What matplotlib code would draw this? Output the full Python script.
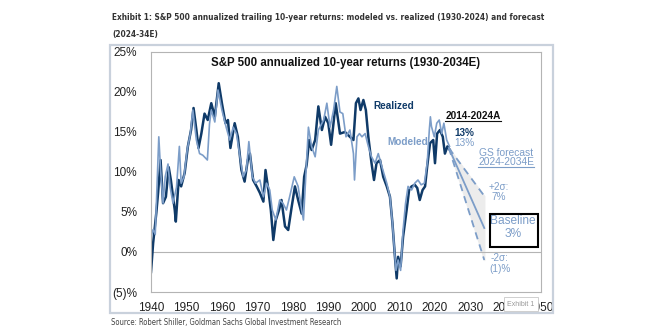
import matplotlib
matplotlib.use("Agg")
import matplotlib.pyplot as plt
from matplotlib.patches import Rectangle
import numpy as np

# ─── Data ────────────────────────────────────────────────────────────────────
realized_years = [1940.0, 1940.6, 1941.5, 1942.0, 1942.7, 1943.4, 1944.2, 1945.0, 1945.6, 1946.7,
                  1947.0, 1947.8, 1948.5, 1949.5, 1950.4, 1951.3, 1952.0, 1952.8, 1953.4, 1954.2,
                  1955.1, 1956.0, 1957.0, 1958.0, 1959.1, 1960.0, 1961.0, 1961.7, 1962.4, 1963.6,
                  1964.5, 1965.5, 1966.4, 1967.3, 1967.9, 1968.8, 1969.8, 1970.7, 1971.7, 1972.3,
                  1973.1, 1973.8, 1974.5, 1975.2, 1976.1, 1976.8, 1977.8, 1978.7, 1979.7, 1980.6,
                  1981.5, 1982.5, 1983.2, 1983.9, 1984.6, 1985.3, 1986.3, 1987.2, 1988.2, 1989.1,
                  1990.0, 1990.8, 1992.1, 1993.3, 1994.7, 1996.1, 1997.1, 1997.8, 1998.5, 1999.1,
                  1999.9, 2000.6, 2001.3, 2002.2, 2002.9, 2003.6, 2004.6, 2005.5, 2006.5, 2007.4,
                  2008.1, 2008.8, 2009.3, 2009.7, 2010.4, 2011.1, 2012.1, 2012.8, 2013.5, 2014.4,
                  2015.1, 2015.8, 2016.6, 2017.3, 2017.9, 2018.7, 2019.6, 2020.1, 2020.7, 2021.5,
                  2022.3, 2022.9, 2023.6, 2024.3]
realized_pct = [-2.5, 1.1, 4.9, 7.4, 11.5, 6.1, 6.9, 10.6, 9.0, 5.25,
                3.8, 9.0, 8.2, 9.9, 13.2, 15.25, 18.0, 15.25, 13.0, 14.8,
                17.3, 16.5, 18.6, 16.9, 21.1, 18.6, 16.1, 16.5, 13.0, 16.1,
                14.4, 10.25, 8.8, 11.5, 12.3, 9.0, 8.2, 7.4, 6.3, 10.25,
                7.75, 5.25, 1.5, 4.0, 5.25, 6.5, 3.2, 2.75, 5.7, 8.2,
                6.5, 4.8, 9.4, 10.9, 14.0, 12.75, 14.0, 18.2, 15.25, 16.9,
                16.1, 13.4, 18.6, 14.8, 15.0, 14.4, 14.0, 18.6, 19.2, 17.75,
                19.0, 17.75, 14.4, 11.1, 9.0, 11.1, 11.5, 9.4, 8.2, 6.9,
                3.6, -0.6, -3.3, -0.6, -1.8, 1.9, 5.25, 7.75, 8.2, 8.4,
                8.0, 6.5, 7.75, 8.2, 10.7, 13.6, 14.0, 11.1, 14.8, 15.25,
                14.4, 12.3, 13.2, 12.75]

modeled_years = [1940.0, 1940.6, 1941.2, 1942.2, 1942.7, 1943.4, 1944.0, 1944.8, 1945.4, 1946.2,
                 1947.2, 1948.0, 1948.5, 1949.3, 1950.2, 1951.1, 1951.8, 1952.8, 1953.7, 1954.6,
                 1955.9, 1956.5, 1957.0, 1958.0, 1958.9, 1960.0, 1961.2, 1962.2, 1963.2, 1964.1,
                 1965.1, 1966.0, 1966.9, 1967.6, 1968.6, 1969.5, 1970.7, 1971.7, 1972.6, 1973.5,
                 1974.2, 1975.2, 1976.3, 1977.2, 1978.2, 1979.1, 1980.4, 1981.5, 1982.5, 1983.0,
                 1983.9, 1984.4, 1985.3, 1986.3, 1987.2, 1988.7, 1989.6, 1990.5, 1991.5, 1992.4,
                 1993.3, 1994.1, 1995.0, 1996.1, 1997.1, 1997.4, 1998.1, 1998.8, 1999.5, 2000.4,
                 2001.3, 2002.2, 2003.2, 2004.1, 2005.1, 2006.5, 2007.4, 2008.1, 2008.6, 2009.1,
                 2009.7, 2010.4, 2011.1, 2011.8, 2012.5, 2013.5, 2014.4, 2015.3, 2016.2, 2017.1,
                 2017.9, 2018.5, 2018.8, 2019.1, 2019.9, 2020.6, 2021.3, 2022.0, 2022.6, 2023.4,
                 2024.2]
modeled_pct = [1.9, 2.8, 2.2, 14.4, 10.25, 6.1, 9.4, 11.0, 8.1, 6.1,
               8.1, 13.2, 8.6, 9.4, 12.75, 14.8, 17.75, 14.0, 12.3, 12.1,
               11.5, 16.0, 17.75, 16.25, 20.25, 17.75, 15.6, 14.0, 15.6, 14.8,
               11.9, 9.4, 10.25, 13.8, 9.4, 8.6, 9.0, 6.9, 8.6, 7.75,
               5.25, 4.0, 6.5, 6.1, 5.25, 6.9, 9.4, 8.2, 5.25, 4.0,
               11.5, 15.6, 13.2, 11.9, 15.25, 16.5, 18.6, 15.6, 17.75, 20.7,
               17.5, 17.3, 14.4, 15.25, 12.3, 9.0, 14.4, 14.8, 14.4, 14.8,
               13.2, 11.9, 11.1, 12.3, 10.7, 8.6, 6.9, 3.6, 0.6, -2.3,
               -1.0, -2.3, 2.75, 6.1, 8.2, 7.75, 8.6, 9.0, 8.4, 8.6,
               11.1, 15.25, 16.9, 15.7, 14.4, 16.1, 16.5, 14.8, 16.1, 14.0,
               13.2]

forecast_years = [2024, 2034]
baseline_pct = [13, 3]
upper_pct = [13, 7]
lower_pct = [13, -1]

x_ticks = list(range(1940, 2051, 10))
y_ticks = [-5, 0, 5, 10, 15, 20, 25]
y_tick_labels = ["(5)%", "0%", "5%", "10%", "15%", "20%", "25%"]

# ─── Styles ──────────────────────────────────────────────────────────────────
DARK = "#0f3a68"
LIGHT = "#7c9dc8"
GRID = "#b4b4b4"
plt.rcParams["font.family"] = ["Liberation Sans", "DejaVu Sans"]

W, H = 664, 331
fig = plt.figure(figsize=(W / 100, H / 100), dpi=100)
ax = fig.add_axes([151 / W, 1 - 292 / H, (541 - 151) / W, (292 - 52) / H])

# outer frame around the exhibit
fig.patches.append(Rectangle((110 / W, 1 - 313 / H), (553 - 110) / W, (313 - 45) / H,
                             transform=fig.transFigure, fill=False,
                             edgecolor="#c9d1dc", linewidth=1.6))

ax.plot(realized_years, realized_pct, color=DARK, linewidth=1.8, solid_joinstyle="round")
ax.plot(modeled_years, modeled_pct, color=LIGHT, linewidth=1.2, solid_joinstyle="round")

ax.fill_between(forecast_years, lower_pct, upper_pct, color="#ececec", zorder=0)
ax.plot(forecast_years, baseline_pct, color=LIGHT, linewidth=1.3)
ax.plot(forecast_years, upper_pct, color=LIGHT, linewidth=1.3, linestyle=(0, (4, 3)))
ax.plot(forecast_years, lower_pct, color=LIGHT, linewidth=1.3, linestyle=(0, (4, 3)))

ax.axhline(0, color=GRID, linewidth=0.8, zorder=0)
ax.set_xlim(1940, 2050)
ax.set_ylim(-5, 25)
ax.set_xticks(x_ticks)
ax.set_yticks(y_ticks, y_tick_labels)
ax.tick_params(length=0, labelsize=8.5, colors="#222222")
ax.tick_params(axis="y", pad=10)
ax.tick_params(axis="x", pad=7)
for s in ax.spines.values():
    s.set_color(GRID)
    s.set_linewidth(0.8)

# ─── Text ────────────────────────────────────────────────────────────────────
ax.text(0.5, 1 - 11 / 240, "S&P 500 annualized 10-year returns (1930-2034E)", fontsize=8.3,
        fontweight="bold", color="#111111", ha="center", va="center", transform=ax.transAxes)
ax.text(2002.6, 18.3, "Realized", color=DARK, fontsize=7.2, fontweight="bold", va="center")
ax.text(2006.6, 13.75, "Modeled", color=LIGHT, fontsize=7.2, fontweight="bold", va="center")
t_act = ax.text(2023.0, 17.0, "2014-2024A", color="#111111", fontsize=7.2,
                fontweight="bold", va="center")
ax.text(2025.5, 14.9, "13%", color=DARK, fontsize=7.2, fontweight="bold", va="center")
ax.text(2025.5, 13.6, "13%", color=LIGHT, fontsize=7.2, va="center")
ax.text(2040.2, 12.4, "GS forecast", color=LIGHT, fontsize=7.4, ha="center", va="center")
t_fc = ax.text(2040.2, 11.2, "2024-2034E", color=LIGHT, fontsize=7.4, ha="center", va="center")
ax.text(2038.0, 8.1, "+2σ:", color=LIGHT, fontsize=7.2, ha="center", va="center")
ax.text(2038.0, 6.9, "7%", color=LIGHT, fontsize=7.2, ha="center", va="center")
ax.text(2038.4, -0.75, "-2σ:", color=LIGHT, fontsize=7.2, ha="center", va="center")
ax.text(2038.4, -2.1, "(1)%", color=LIGHT, fontsize=7.2, ha="center", va="center")
ax.text(2042.1, 3.9, "Baseline", color=LIGHT, fontsize=8.6, ha="center", va="center")
ax.text(2042.1, 2.3, "3%", color=LIGHT, fontsize=8.6, ha="center", va="center")
ax.add_patch(Rectangle((2035.6, 0.6), 13.6, 4.15, fill=False, edgecolor="black",
                       linewidth=1.5, zorder=5))

cond = dict(family="DejaVu Sans", fontstretch="condensed")
hdr1 = fig.text(112 / W, 1 - 18 / H,
                "Exhibit 1: S&P 500 annualized trailing 10-year returns: modeled vs. realized (1930-2024) and forecast",
                fontsize=7.8, fontweight="bold", color="#333333", va="center", **cond)
hdr2 = fig.text(112 / W, 1 - 35 / H, "(2024-34E)", fontsize=7.8, fontweight="bold",
                color="#333333", va="center", **cond)
src = fig.text(111 / W, 1 - 323 / H,
               "Source: Robert Shiller, Goldman Sachs Global Investment Research",
               fontsize=6.3, color="#444444", va="center", **cond)
fig.text(521 / W, 1 - 304 / H, "Exhibit 1", fontsize=5, color="#999999", ha="center",
         va="center", bbox=dict(boxstyle="square,pad=0.5", fc="white", ec="#c8c8c8", lw=0.6))

# fit the narrow header / source texts to the widths seen in the reference
fig.canvas.draw()
rend = fig.canvas.get_renderer()
w1 = hdr1.get_window_extent(rend).width
if w1 > 433:
    k = 433 / w1
    hdr1.set_fontsize(7.8 * k)
    hdr2.set_fontsize(7.8 * k)
w2 = src.get_window_extent(rend).width
if w2 > 230:
    src.set_fontsize(6.3 * 230 / w2)

# underline the two headings
for t, c in [(t_act, "#111111"), (t_fc, LIGHT)]:
    bb = t.get_window_extent(rend)
    fig.add_artist(plt.Line2D([bb.x0 / W, bb.x1 / W], [(bb.y0 + 0.5) / H] * 2,
                              color=c, linewidth=0.8))

fig.savefig("out.png", dpi=100)
